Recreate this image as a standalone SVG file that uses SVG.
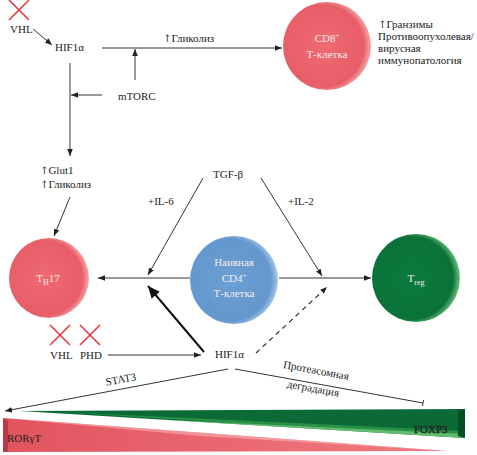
<svg xmlns="http://www.w3.org/2000/svg" width="477" height="455" viewBox="0 0 477 455">
<defs>
<style>
text{font-family:"Liberation Serif","Times New Roman",serif;font-size:11px;fill:#222}
.ar{font-family:"DejaVu Serif","DejaVu Sans",serif;font-size:10px;fill:#222}
.w{fill:#f6eaea;text-anchor:middle}
.ln{stroke:#333;stroke-width:1;fill:none}
.g{stroke:#777;stroke-width:1.3;fill:none}
.x{stroke:#e8323c;stroke-width:1.5;fill:none}
</style>
<marker id="a" viewBox="0 0 10 10" refX="10" refY="5" markerWidth="7" markerHeight="7" orient="auto" markerUnits="userSpaceOnUse"><path d="M0,1L10,5L0,9z" fill="#222"/></marker>
<marker id="b" viewBox="0 0 10 10" refX="10" refY="5" markerWidth="12" markerHeight="12" orient="auto" markerUnits="userSpaceOnUse"><path d="M0,0.5L10,5L0,9.5z" fill="#111"/></marker>
<radialGradient id="rg" cx="45%" cy="50%" r="55%"><stop offset="0" stop-color="#ee6a72"/><stop offset="0.85" stop-color="#e85e68"/><stop offset="1" stop-color="#f4a8ac"/></radialGradient>
<radialGradient id="bg" cx="45%" cy="50%" r="55%"><stop offset="0" stop-color="#6b9fd3"/><stop offset="0.85" stop-color="#6497cd"/><stop offset="1" stop-color="#a9c8ea"/></radialGradient>
<radialGradient id="gg" cx="45%" cy="50%" r="55%"><stop offset="0" stop-color="#0b7a3d"/><stop offset="0.85" stop-color="#0a7238"/><stop offset="1" stop-color="#6cc27a"/></radialGradient>
<linearGradient id="rw" x1="0" y1="0" x2="1" y2="0"><stop offset="0" stop-color="#e2545e"/><stop offset="1" stop-color="#f07a82"/></linearGradient>
</defs>

<g id="connectors">
<line class="ln" x1="33" y1="29" x2="52" y2="45" marker-end="url(#a)"/>
<line class="ln" x1="102" y1="48" x2="282" y2="48" marker-end="url(#a)"/>
<line class="ln" x1="135" y1="80" x2="135" y2="49" marker-end="url(#a)"/>
<line class="ln" x1="102" y1="95" x2="71" y2="95" marker-end="url(#a)"/>
<line class="ln" x1="70" y1="63" x2="70" y2="156" marker-end="url(#a)"/>
<line class="ln" x1="70" y1="197" x2="54" y2="236" marker-end="url(#a)"/>
<line class="ln" x1="203" y1="178" x2="148" y2="275" marker-end="url(#a)"/>
<line class="ln" x1="261" y1="178" x2="322" y2="276" marker-end="url(#a)"/>
<line class="g" x1="190" y1="278" x2="98" y2="278" marker-end="url(#a)"/>
<line class="g" x1="279" y1="278" x2="371" y2="278" marker-end="url(#a)"/>
<line x1="204" y1="352" x2="148" y2="286" stroke="#111" stroke-width="2" marker-end="url(#b)"/>
<line x1="256" y1="353" x2="327" y2="287" stroke="#333" stroke-width="1.2" stroke-dasharray="5,4" marker-end="url(#a)"/>
<line class="ln" x1="108" y1="355" x2="201" y2="355" marker-end="url(#a)"/>
<line class="ln" x1="228" y1="369" x2="5" y2="411" marker-end="url(#a)"/>
<line class="ln" x1="235" y1="369" x2="423" y2="403"/>
<line class="ln" x1="423.5" y1="400" x2="422.5" y2="406"/>
</g>

<g id="vhl-top">
<path class="x" d="M9,0L29,20M29,0L9,20"/>
<text x="10" y="33">VHL</text>
</g>
<g id="hif1a-top"><text x="55" y="51">HIF1α</text></g>
<g id="glycolysis-top"><text x="163" y="42"><tspan class="ar">↑</tspan>Гликолиз</text></g>
<g id="mtorc"><text x="118" y="100">mTORC</text></g>
<g id="glut1"><text x="40" y="174"><tspan class="ar">↑</tspan>Glut1</text><text x="40" y="188"><tspan class="ar">↑</tspan>Гликолиз</text></g>
<g id="tgfb"><text x="213" y="178">TGF-β</text></g>
<g id="il6"><text x="148" y="205">+IL-6</text></g>
<g id="il2"><text x="288" y="205">+IL-2</text></g>

<g id="cd8">
<circle cx="327" cy="46" r="44" fill="url(#rg)"/>
<text class="w" x="327" y="42">CD8<tspan dy="-4" font-size="7">+</tspan></text>
<text class="w" x="327" y="58">Т-клетка</text>
</g>
<g id="cd8-effects">
<text x="378" y="28"><tspan class="ar">↑</tspan>Гранзимы</text>
<text x="378" y="40">Противоопухолевая/</text>
<text x="378" y="52">вирусная</text>
<text x="378" y="64">иммунопатология</text>
</g>

<g id="th17">
<circle cx="49" cy="278" r="40" fill="url(#rg)"/>
<text class="w" x="48" y="282">T<tspan dy="3" font-size="8">H</tspan><tspan dy="-3">17</tspan></text>
</g>
<g id="naive">
<circle cx="234" cy="280" r="44" fill="url(#bg)"/>
<text class="w" x="234" y="266">Наивная</text>
<text class="w" x="234" y="282">CD4<tspan dy="-4" font-size="7">+</tspan></text>
<text class="w" x="234" y="297">Т-клетка</text>
</g>
<g id="treg">
<circle cx="416" cy="278" r="44" fill="url(#gg)"/>
<text class="w" x="416" y="282">T<tspan dy="3" font-size="8">reg</tspan></text>
</g>

<g id="vhl-phd">
<path class="x" d="M50,325L70,345M70,325L50,345M80,325L100,345M100,325L80,345"/>
<text x="50" y="359">VHL</text>
<text x="80" y="359">PHD</text>
</g>
<g id="hif1a-bottom"><text x="215" y="358">HIF1α</text></g>
<g id="stat3"><text x="121" y="383" text-anchor="middle" transform="rotate(-10.5 121 380)">STAT3</text></g>
<g id="proteasome">
<text x="316" y="374" text-anchor="middle" transform="rotate(10.5 316 371)">Протеасомная</text>
<text x="313" y="392" text-anchor="middle" transform="rotate(10.5 313 389)">деградация</text>
</g>

<g id="gradient-bars">
<polygon points="20,411 465,409 465,438" fill="#0b6a35"/>
<polygon points="60,412 465,431 465,438" fill="#2f9a4c" opacity="0.8"/>
<polygon points="150,419 465,434 465,438" fill="#7ccf7e" opacity="0.7"/>
<polygon points="458,410 465,409 465,438 458,436" fill="#064d25"/>
<polygon points="3,418 447,451 3,452" fill="url(#rw)"/>
<polygon points="3,418 447,451 200,436" fill="#f6b3b7" opacity="0.6"/>
<polygon points="3,418 8,421 8,452 3,452" fill="#b83a44"/>
<text x="7" y="442" font-size="12" fill="#4a1518">RORγT</text>
<text x="414" y="433" font-size="12" fill="#cfd6cf" stroke="#2a2a2a" stroke-width="0.4">FOXP3</text>
</g>
</svg>
